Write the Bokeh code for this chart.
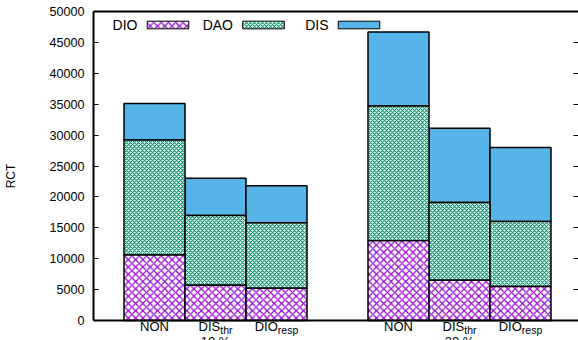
from bokeh.plotting import figure
from bokeh.models import Range1d, LinearAxis, FixedTicker, NumeralTickFormatter, Label, Span
from bokeh.core.properties import value
from bokeh.embed import file_html
from bokeh.resources import INLINE

# ---- data ---------------------------------------------------------------
groups = ["10 %", "20 %"]
schemes = [("NON", ""), ("DIS", "thr"), ("DIO", "resp")]
# stacked components per bar, group by group (NON, DIS_thr, DIO_resp)
dio = [10600, 5700, 5200, 12900, 6500, 5500]
dao = [18600, 11300, 10600, 21800, 12600, 10500]
dis = [5900, 6000, 6000, 12000, 12000, 12000]
series_names = ["DIO", "DAO", "DIS"]
y_ticks = [0, 5000, 10000, 15000, 20000, 25000, 30000, 35000, 40000, 45000, 50000]

# ---- layout -------------------------------------------------------------
W, H = 578, 340
LEFT, TOP = 93, 11
ZERO_PX = 320            # canvas row of the value axis origin
UNIT_PX = 61
X_START = -1
X_END = X_START + (W - LEFT) / UNIT_PX
Y_MAX = 50000
Y_PX = (ZERO_PX - TOP) / Y_MAX

FONT = "Liberation Sans"
VIOLET = "#9400d3"
GREEN = "#009e73"
BLUE = "#56b4e9"


def dx(px):
    """canvas x pixel -> data x"""
    return X_START + (px - LEFT) / UNIT_PX


def dy(py):
    """canvas y pixel -> data y"""
    return (ZERO_PX - py) / Y_PX


# the frame runs down to the canvas bottom so that the category labels
# under the value origin are drawn inside it
p = figure(width=W, height=H, output_backend="svg", toolbar_location=None,
           x_range=Range1d(X_START, X_END), y_range=Range1d(dy(H), Y_MAX),
           min_border_left=LEFT, min_border_top=TOP,
           min_border_bottom=0, min_border_right=0,
           x_axis_type=None, y_axis_type=None)
p.outline_line_color = None
p.background_fill_color = "white"
p.border_fill_color = "white"

# ---- stacked bars -------------------------------------------------------
n = len(schemes)
xs = [g * (n + 1) + i for g in range(len(groups)) for i in range(n)]
dio_top = list(dio)
dao_top = [a + b for a, b in zip(dio_top, dao)]
dis_top = [a + b for a, b in zip(dao_top, dis)]

styles = {
    "DIO": dict(fill_color="white", hatch_pattern="diagonal_cross", hatch_color=VIOLET,
                hatch_scale=7.3, hatch_weight=1.2),
    "DAO": dict(fill_color="white", hatch_pattern="diagonal_cross", hatch_color=GREEN,
                hatch_scale=4, hatch_weight=1.15),
    "DIS": dict(fill_color=BLUE),
}

p.vbar(x=xs, width=1, bottom=dao_top, top=dis_top, line_color="black",
       line_width=1.5, **styles["DIS"])
p.vbar(x=xs, width=1, bottom=dio_top, top=dao_top, line_color="black",
       line_width=1.5, **styles["DAO"])
p.vbar(x=xs, width=1, bottom=0, top=dio_top, line_color="black",
       line_width=1.5, **styles["DIO"])

# ---- key: label then sample, left to right ------------------------------
for k, name in enumerate(series_names):
    sw_left = 146.7 + 95.5 * k
    p.quad(left=dx(sw_left), right=dx(sw_left + 41.6), top=dy(20.7), bottom=dy(28.3),
           line_color="black", line_width=1, **styles[name])
    p.add_layout(Label(x=dx(sw_left - 9.7), y=dy(24.5), text=name, text_align="right",
                       text_baseline="middle", text_font=FONT, text_font_size="14px",
                       text_color="black"))

# ---- axes / border ------------------------------------------------------
yaxis = LinearAxis(ticker=FixedTicker(ticks=y_ticks), formatter=NumeralTickFormatter(format="0"),
                   bounds=(0, Y_MAX),
                   axis_label="RCT", axis_label_text_font=FONT,
                   axis_label_text_font_style="normal", axis_label_text_font_size="12px",
                   axis_label_standoff=28, axis_label_text_color="black",
                   major_label_text_font=FONT, major_label_text_font_size="12.6px",
                   major_label_text_color="black", major_label_standoff=9,
                   major_tick_in=5, major_tick_out=0, minor_tick_line_color=None,
                   axis_line_width=2, major_tick_line_width=1)
p.add_layout(yaxis, "left")

raxis = LinearAxis(ticker=FixedTicker(ticks=y_ticks), major_label_text_font_size="0px",
                   major_label_standoff=0, major_tick_in=5, major_tick_out=0,
                   minor_tick_line_color=None, axis_line_color=None,
                   major_tick_line_width=1)
p.add_layout(raxis, "right")

top_axis = LinearAxis(ticker=FixedTicker(ticks=[]), major_label_text_font_size="0px",
                      major_label_standoff=0, major_tick_in=0, major_tick_out=0,
                      minor_tick_line_color=None, axis_line_width=2)
p.add_layout(top_axis, "above")

p.add_layout(Span(location=0, dimension="width", line_color="black", line_width=2))

# ---- category labels with subscripts ------------------------------------
ADV = {"D": .722, "I": .278, "S": .667, "O": .778, "N": .722,
       "t": .278, "h": .556, "r": .333, "e": .556, "s": .5, "p": .556}
MAIN_PX, SUB_PX = 13, 10.5
MAIN_BASE, SUB_BASE, GROUP_BASE = 326, 329, 341


def width(s, size):
    return sum(ADV.get(c, .556) for c in s) * size


text_style = dict(text_font=value(FONT), text_color="black", text_baseline="alphabetic")
for x, (main, sub) in zip(xs, schemes * len(groups)):
    if sub:
        split = (width(main, MAIN_PX) - width(sub, SUB_PX)) / 2
        p.text(x=[x], y=[dy(MAIN_BASE)], text=[main], x_offset=split, text_align="right",
               text_font_size=f"{MAIN_PX}px", **text_style)
        p.text(x=[x], y=[dy(SUB_BASE)], text=[sub], x_offset=split, text_align="left",
               text_font_size=f"{SUB_PX}px", **text_style)
    else:
        p.text(x=[x], y=[dy(MAIN_BASE)], text=[main], text_align="center",
               text_font_size=f"{MAIN_PX}px", **text_style)

# group captions sit at the canvas edge, only their top shows
group_x = [g * (n + 1) + (n - 1) / 2 for g in range(len(groups))]
p.text(x=group_x, y=[dy(GROUP_BASE)] * len(groups), text=groups, text_align="center",
       text_font_size=f"{MAIN_PX}px", **text_style)

open("out.html", "w").write(file_html(p, INLINE))
